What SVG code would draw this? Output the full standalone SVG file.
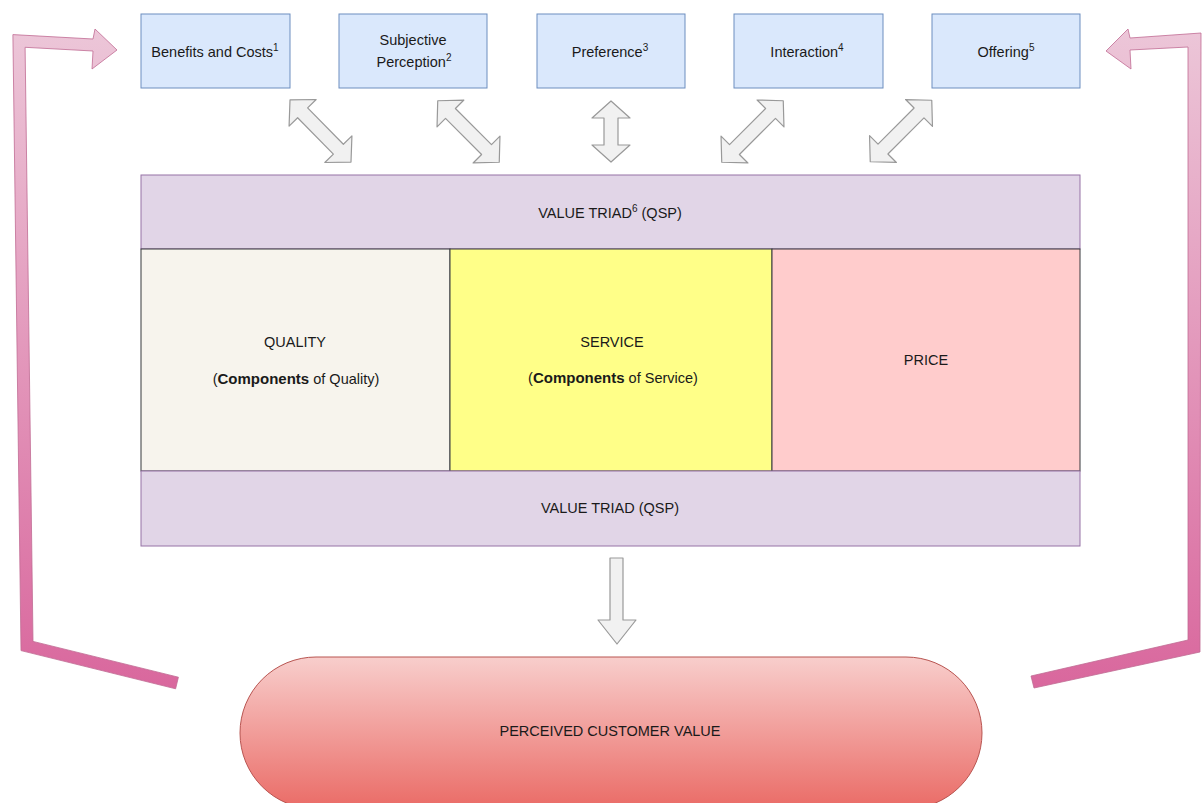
<svg xmlns="http://www.w3.org/2000/svg" width="1203" height="803" viewBox="0 0 1203 803">
<style>
text{font-family:"Liberation Sans",Arial,sans-serif;font-size:14.5px;fill:#1a1a1a;text-anchor:middle}
.sup{font-size:10px}
.b{font-weight:bold;font-size:15px}
.top{fill:#dae8fc;stroke:#6c8ebf;stroke-width:1}
.band{fill:#e1d5e7;stroke:#9673a6;stroke-width:1}
.dbl{fill:#f1f1f1;stroke:#999;stroke-width:1.2;stroke-linejoin:round}
.loop{fill:url(#pink);stroke:#c06b93;stroke-width:0.8;stroke-linejoin:round}
</style>
<defs>
<linearGradient id="pink" gradientUnits="userSpaceOnUse" x1="0" y1="30" x2="0" y2="690">
<stop offset="0" stop-color="#ecc6d8"/>
<stop offset="1" stop-color="#d9679d"/>
</linearGradient>
<linearGradient id="red" x1="0" y1="0" x2="0" y2="1">
<stop offset="0" stop-color="#f8cecc"/>
<stop offset="1" stop-color="#ea6b66"/>
</linearGradient>
<path id="da" d="M -43.5,0 L -25.5,-19 L -25.5,-7 L 25.5,-7 L 25.5,-19 L 43.5,0 L 25.5,19 L 25.5,7 L -25.5,7 L -25.5,19 Z"/>
</defs>

<g id="benefits">
<rect class="top" x="141" y="14" width="149" height="74"/>
<text x="215" y="57">Benefits and Costs<tspan class="sup" dy="-6">1</tspan></text>
</g>
<g id="subjective">
<rect class="top" x="339" y="14" width="148" height="74"/>
<text x="413" y="45">Subjective</text>
<text x="414" y="67">Perception<tspan class="sup" dy="-6">2</tspan></text>
</g>
<g id="preference">
<rect class="top" x="537" y="14" width="148" height="74"/>
<text x="610" y="57">Preference<tspan class="sup" dy="-6">3</tspan></text>
</g>
<g id="interaction">
<rect class="top" x="734" y="14" width="149" height="74"/>
<text x="807" y="57">Interaction<tspan class="sup" dy="-6">4</tspan></text>
</g>
<g id="offering">
<rect class="top" x="932" y="14" width="148" height="74"/>
<text x="1006" y="57">Offering<tspan class="sup" dy="-6">5</tspan></text>
</g>

<g id="value-triad-top">
<rect class="band" x="141" y="175" width="939" height="74"/>
<text x="610" y="218">VALUE TRIAD<tspan class="sup" dy="-6">6</tspan><tspan dy="6"> (QSP)</tspan></text>
</g>
<g id="quality">
<rect x="141" y="249" width="309" height="222" fill="#f7f4ed" stroke="#36393d" stroke-width="1"/>
<text x="295" y="347">QUALITY</text>
<text x="296" y="384"><tspan>(</tspan><tspan class="b">Components</tspan><tspan> of Quality)</tspan></text>
</g>
<g id="service">
<rect x="450" y="249" width="322" height="222" fill="#ffff88" stroke="#36393d" stroke-width="1"/>
<text x="612" y="347">SERVICE</text>
<text x="613" y="383"><tspan>(</tspan><tspan class="b">Components</tspan><tspan> of Service)</tspan></text>
</g>
<g id="price">
<rect x="772" y="249" width="308" height="222" fill="#ffcccc" stroke="#36393d" stroke-width="1"/>
<text x="926" y="365">PRICE</text>
</g>
<g id="value-triad-bottom">
<rect class="band" x="141" y="471" width="939" height="75"/>
<text x="610" y="513">VALUE TRIAD (QSP)</text>
</g>

<g id="perceived-value">
<rect x="240" y="657" width="742" height="152" rx="76" ry="76" fill="url(#red)" stroke="#b85450" stroke-width="1"/>
<text x="610" y="736">PERCEIVED CUSTOMER VALUE</text>
</g>

<g id="connectors">
<use href="#da" class="dbl" transform="translate(320.5,131) rotate(45.5)"/>
<use href="#da" class="dbl" transform="translate(468.5,131.5) rotate(45)"/>
<path class="dbl" d="M 611,101 L 630,118 L 618,118 L 618,145 L 630,145 L 611,162 L 592,145 L 604,145 L 604,118 L 592,118 Z"/>
<use href="#da" class="dbl" transform="translate(752.5,131.5) rotate(135)"/>
<use href="#da" class="dbl" transform="translate(901,131) rotate(135)"/>
<path class="dbl" d="M 610,558 L 623,558 L 623,620 L 636,620 L 617,644 L 598,620 L 610,620 Z"/>
<path class="loop" d="M 178.4,677.2 L 33,641.4 L 25.1,47.3 L 93,51 L 92,69 L 117,50 L 95,29 L 93,39 L 12.9,34.6 L 21,650.6 L 175.6,688.8 Z"/>
<path class="loop" d="M 1031,676 L 1188,640 L 1188,47 L 1130,50 L 1131,69 L 1106,51 L 1128,29 L 1130,38 L 1201,33 L 1200,652 L 1034,688 Z"/>
</g>
</svg>
